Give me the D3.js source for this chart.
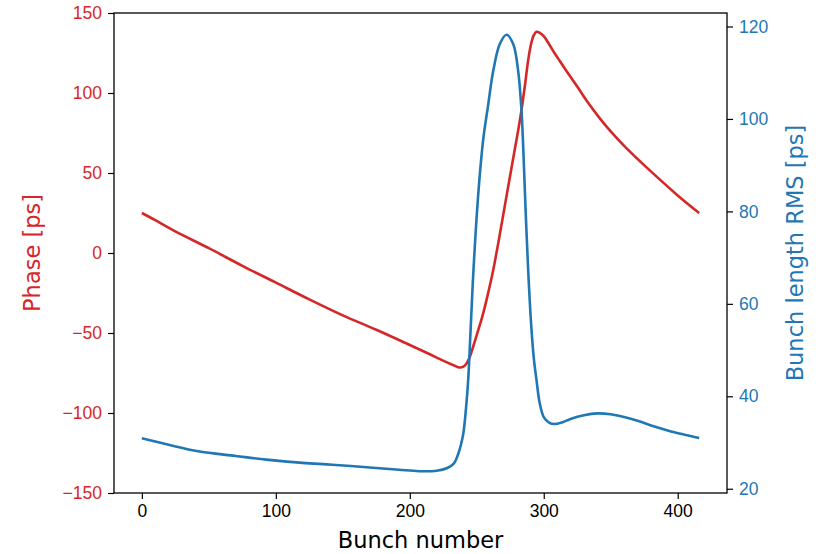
<!DOCTYPE html>
<html>
<head>
<meta charset="utf-8">
<script src="https://cdn.jsdelivr.net/npm/d3@7"></script>
<style>
  body { margin: 0; background: #fff; }
  svg { display: block; font-family: "DejaVu Sans", sans-serif; }
</style>
</head>
<body>
<div id="chart"></div>
<script>
// phase of each bunch (left axis, ps)
const phaseBunch = [0, 10, 25, 50, 75, 100, 125, 150, 175, 200, 215, 222.5, 230, 235, 237.5, 240, 242.4, 245, 247.3, 251,
  254.8, 258.5, 262.3, 266, 270, 274, 278, 281, 283.4, 286, 288.4, 290.5, 292.5, 294.6, 297, 300, 304, 308, 312, 318,
  325, 333, 342, 350, 360, 380, 400, 416];
const phaseValues = [25, 20.5, 13.5, 3, -8, -18.5, -29, -39, -48, -57.5, -63.3, -66.3, -69.2, -71, -71.6, -71, -69, -64.5, -58.6, -48.5,
  -37.7, -25, -10.6, 6, 25, 44, 63, 77, 89.4, 105, 120.6, 130.5, 136, 138.3, 137.6, 135.5, 130.5, 125, 120, 112.5,
  104, 94, 84, 76, 67, 51, 36, 25];

// bunch length (right axis, ps)
const lengthBunch = [0, 20, 42, 70, 93, 120, 142, 170, 192, 207, 220, 228, 233, 236, 238, 240, 242, 243.6, 245.5, 247.3,
  249.5, 252, 255, 258.5, 262.3, 267.2, 272.2, 277.2, 280.9, 283.4, 284.8, 286.5, 288.4, 290.5, 292.5, 294.6, 297, 300, 304, 308,
  314, 320, 330, 340, 350, 360, 370, 382, 395, 405, 416];
const lengthValues = [30.9, 29.5, 28.1, 27.1, 26.3, 25.6, 25.2, 24.6, 24.1, 23.8, 23.9, 24.5, 25.5, 27.4, 29.3, 32, 37.5, 43.5, 55, 66,
  77, 87, 96, 103, 110.4, 116.2, 118.2, 116.2, 110.4, 101.8, 93, 80, 67.2, 56, 48.5, 43.5, 38.5, 35.5, 34.3, 34,
  34.4, 35.1, 35.9, 36.3, 36.1, 35.5, 34.7, 33.5, 32.4, 31.7, 31.0];

const xTicks = [0, 100, 200, 300, 400];
const phaseTicks = [-150, -100, -50, 0, 50, 100, 150];
const lengthTicks = [20, 40, 60, 80, 100, 120];

const width = 816, height = 554;
const mLeft = 114, mRight = 727, mTop = 13, mBottom = 493;
const red = "#d62728", blue = "#1f77b4";

const phase = phaseBunch.map((b, i) => ({ b, v: phaseValues[i] }));
const blen = lengthBunch.map((b, i) => ({ b, v: lengthValues[i] }));

// matplotlib-style 5% margins
const pad = (lo, hi) => { const m = (hi - lo) * 0.05; return [lo - m, hi + m]; };

const x = d3.scaleLinear()
  .domain(pad(d3.min(phaseBunch), d3.max(phaseBunch)))
  .range([mLeft, mRight]);
const yL = d3.scaleLinear().domain([-150, 150]).range([mBottom, mTop]);
const yR = d3.scaleLinear()
  .domain(pad(d3.min(lengthValues), d3.max(lengthValues)))
  .range([mBottom, mTop]);

const svg = d3.select("#chart").append("svg")
  .attr("width", width)
  .attr("height", height);

const minus = d => d < 0 ? "\u2212" + Math.abs(d) : String(d);

// lines
const lineL = d3.line().x(d => x(d.b)).y(d => yL(d.v)).curve(d3.curveCatmullRom.alpha(0.5));
const lineR = d3.line().x(d => x(d.b)).y(d => yR(d.v)).curve(d3.curveCatmullRom.alpha(0.5));

svg.append("path")
  .datum(phase)
  .attr("fill", "none")
  .attr("stroke", red)
  .attr("stroke-width", 2.6)
  .attr("stroke-linejoin", "round")
  .attr("d", lineL);

svg.append("path")
  .datum(blen)
  .attr("fill", "none")
  .attr("stroke", blue)
  .attr("stroke-width", 2.6)
  .attr("stroke-linejoin", "round")
  .attr("d", lineR);

// axes
const xAxis = svg.append("g")
  .attr("transform", `translate(0,${mBottom})`)
  .call(d3.axisBottom(x).tickValues(xTicks).tickSize(6).tickPadding(6).tickSizeOuter(0));
xAxis.selectAll("text").attr("fill", "#000").style("font-size", "17.5px");

const lAxis = svg.append("g")
  .attr("transform", `translate(${mLeft},0)`)
  .call(d3.axisLeft(yL).tickValues(phaseTicks).tickFormat(minus).tickSize(6).tickPadding(6).tickSizeOuter(0));
lAxis.selectAll("text").attr("fill", red).style("font-size", "17.5px");

const rAxis = svg.append("g")
  .attr("transform", `translate(${mRight},0)`)
  .call(d3.axisRight(yR).tickValues(lengthTicks).tickSize(6).tickPadding(6).tickSizeOuter(0));
rAxis.selectAll("text").attr("fill", blue).style("font-size", "17.5px");

svg.selectAll(".domain").remove();
svg.selectAll(".tick line").attr("stroke", "#000").attr("stroke-width", 1.2);

// frame
svg.append("rect")
  .attr("x", mLeft).attr("y", mTop)
  .attr("width", mRight - mLeft).attr("height", mBottom - mTop)
  .attr("fill", "none")
  .attr("stroke", "#000")
  .attr("stroke-width", 1.3);

// axis labels
svg.append("text")
  .attr("x", (mLeft + mRight) / 2)
  .attr("y", 548)
  .attr("text-anchor", "middle")
  .style("font-size", "22.5px")
  .text("Bunch number");

svg.append("text")
  .attr("transform", `translate(40,${(mTop + mBottom) / 2}) rotate(-90)`)
  .attr("text-anchor", "middle")
  .attr("fill", red)
  .style("font-size", "22.5px")
  .text("Phase [ps]");

svg.append("text")
  .attr("transform", `translate(803,${(mTop + mBottom) / 2}) rotate(-90)`)
  .attr("text-anchor", "middle")
  .attr("fill", blue)
  .style("font-size", "22.5px")
  .text("Bunch length RMS [ps]");
</script>
</body>
</html>
